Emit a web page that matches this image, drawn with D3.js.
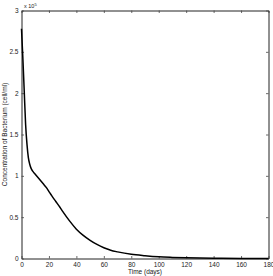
<!DOCTYPE html>
<html><head><meta charset="utf-8">
<script src="https://cdn.jsdelivr.net/npm/d3@7"></script>
<style>body{margin:0;background:#fff}svg{display:block}text{font-family:"Liberation Sans",Arial,sans-serif}</style>
</head><body>
<script>
const timeDays = [0,1,2,3,4,5,6,7,8,10,12,14,16,18,20,22,25,28,30,35,40,45,50,55,60,65,70,80,90,100,110,120,130,140,160,180];
const concentration = [2.78,2.42,2.02,1.62,1.38,1.22,1.14,1.09,1.06,1.02,0.98,0.94,0.90,0.86,0.81,0.76,0.69,0.62,0.57,0.455,0.355,0.28,0.22,0.17,0.13,0.10,0.08,0.05,0.033,0.02,0.013,0.008,0.005,0.003,0.001,0.0005];
const xTicks = [0,20,40,60,80,100,120,140,160,180];
const yTicks = [0,0.5,1,1.5,2,2.5,3];
const xLabel = "Time (days)";
const yLabel = "Concentration of Bacterium (cell/ml)";

const W=273,H=276;
const m={l:21.5,r:268.5,t:10.5,b:258.5};
const svg=d3.select("body").append("svg").attr("width",W).attr("height",H);
const x=d3.scaleLinear().domain([0,180]).range([m.l,m.r]);
const y=d3.scaleLinear().domain([0,3]).range([m.b,m.t]);
const fs=6.5, tl=2.5, col="#222";

const gx=svg.append("g").attr("transform",`translate(0,${m.b})`)
 .call(d3.axisBottom(x).tickValues(xTicks).tickSizeInner(-tl).tickSizeOuter(0).tickPadding(4).tickFormat(d3.format("d")));
const gxt=svg.append("g").attr("transform",`translate(0,${m.t})`)
 .call(d3.axisTop(x).tickValues(xTicks).tickSizeInner(-tl).tickSizeOuter(0).tickFormat(""));
const gy=svg.append("g").attr("transform",`translate(${m.l},0)`)
 .call(d3.axisLeft(y).tickValues(yTicks).tickSizeInner(-tl).tickSizeOuter(0).tickPadding(3).tickFormat(d=>String(d)));
const gyr=svg.append("g").attr("transform",`translate(${m.r},0)`)
 .call(d3.axisRight(y).tickValues(yTicks).tickSizeInner(-tl).tickSizeOuter(0).tickFormat(""));
[gx,gxt,gy,gyr].forEach(g=>{
  g.selectAll(".domain").attr("stroke",col).attr("stroke-width",1);
  g.selectAll(".tick line").attr("stroke","#444").attr("stroke-width",0.8);
  g.selectAll("text").attr("font-size",fs).attr("fill","#222");
});

svg.append("path").datum(timeDays.map((t,i)=>[t,concentration[i]]))
 .attr("fill","none").attr("stroke","#000").attr("stroke-width",1.5)
 .attr("d",d3.line().x(d=>x(d[0])).y(d=>y(d[1])).curve(d3.curveMonotoneX));

svg.append("text").attr("x",(m.l+m.r)/2).attr("y",274).attr("text-anchor","middle")
 .attr("font-size",fs).attr("fill","#222").text(xLabel);
svg.append("text").attr("transform",`translate(7,${(m.t+m.b)/2}) rotate(-90)`).attr("text-anchor","middle")
 .attr("font-size",fs).attr("fill","#222").text(yLabel);
const ex=svg.append("text").attr("x",24).attr("y",8).attr("font-size",5.5).attr("fill","#222");
ex.append("tspan").text("x 10");
ex.append("tspan").attr("dy",-2.5).attr("font-size",4).text("5");
</script>
</body></html>
